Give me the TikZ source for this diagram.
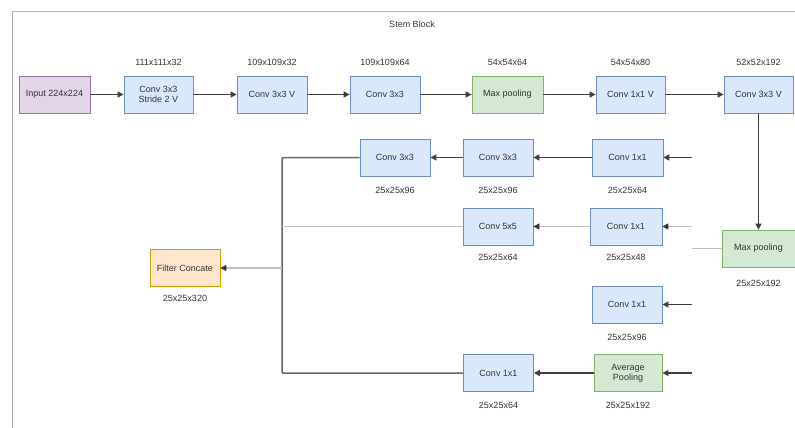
\documentclass[tikz,border=0pt]{standalone}
\usepackage{fontspec}
\setmainfont{Liberation Sans}
\usetikzlibrary{arrows.meta}
\definecolor{bluefill}{HTML}{DAE8FC}
\definecolor{bluedraw}{HTML}{6C8EBF}
\definecolor{greenfill}{HTML}{D5E8D4}
\definecolor{greendraw}{HTML}{82B366}
\definecolor{purplefill}{HTML}{E1D5E7}
\definecolor{purpledraw}{HTML}{9673A6}
\definecolor{orangefill}{HTML}{FFE6CC}
\definecolor{orangedraw}{HTML}{D79B00}
\definecolor{txt}{HTML}{333333}
\tikzset{
  box/.style={minimum width=70pt,minimum height=37pt,inner sep=1pt,align=center,font=\fontsize{9}{10}\selectfont,text=txt,line width=0.8pt},
  bluebox/.style={box,fill=bluefill,draw=bluedraw},
  greenbox/.style={box,fill=greenfill,draw=greendraw},
  purplebox/.style={box,fill=purplefill,draw=purpledraw},
  orangebox/.style={box,fill=orangefill,draw=orangedraw},
  dimlabel/.style={font=\fontsize{9}{10}\selectfont,text=txt,inner sep=0pt},
  arr/.style={draw=black!75,line width=1.4pt,-{Triangle[length=6pt,width=6pt]}},
  lightarr/.style={draw=black!25,line width=1.1pt,-{Triangle[length=6pt,width=6pt,color=black!80]}},
  lightline/.style={draw=black!25,line width=1.1pt},
  darkline/.style={draw=black!60,line width=1.5pt},
  frame/.style={draw=black!30,line width=1pt}
}
\begin{document}
\begin{tikzpicture}[x=1pt,y=-1pt]
\useasboundingbox (0,0) rectangle (795,428);
% frame
\coordinate (fTL) at (12,12);
\coordinate (fTR) at (795,12);
\coordinate (fBL) at (12,428);
\draw[frame] (fTR) -- (fTL) -- (fBL);
\node[dimlabel] (title) at (412,24) {Stem Block};

% top row
\node[purplebox,minimum width=71pt] (in) at (54.5,94.5) {Input 224x224};
\node[bluebox,minimum width=69pt] (c1) at (158.5,94.5) {Conv 3x3\\Stride 2 V};
\node[bluebox] (c2) at (272,94.5) {Conv 3x3 V};
\node[bluebox] (c3) at (385,94.5) {Conv 3x3};
\node[greenbox,minimum width=71pt] (mp1) at (507.5,94.5) {Max pooling};
\node[bluebox,minimum width=69pt] (c4) at (630.5,94.5) {Conv 1x1 V};
\node[bluebox,minimum width=69pt] (c5) at (758.5,94.5) {Conv 3x3 V};

\node[dimlabel] (l1) at (158.5,62) {111x111x32};
\node[dimlabel] (l2) at (272,62) {109x109x32};
\node[dimlabel] (l3) at (385,62) {109x109x64};
\node[dimlabel] (l4) at (507.5,62) {54x54x64};
\node[dimlabel] (l5) at (630.5,62) {54x54x80};
\node[dimlabel] (l6) at (758.5,62) {52x52x192};

\draw[arr] (in) -- (c1);
\draw[arr] (c1) -- (c2);
\draw[arr] (c2) -- (c3);
\draw[arr] (c3) -- (mp1);
\draw[arr] (mp1) -- (c4);
\draw[arr] (c4) -- (c5);

% max pooling 2
\node[greenbox,minimum width=73pt] (mp2) at (758.5,248.5) {Max pooling};
\node[dimlabel] (lmp2) at (758.5,283) {25x25x192};
\draw[arr] (c5) -- (mp2);

% branch 1
\node[bluebox] (b1a) at (395,157.5) {Conv 3x3};
\node[bluebox] (b1b) at (498,157.5) {Conv 3x3};
\node[bluebox,minimum width=71pt] (b1c) at (627.5,157.5) {Conv 1x1};
\node[dimlabel] (lb1a) at (395,190) {25x25x96};
\node[dimlabel] (lb1b) at (498,190) {25x25x96};
\node[dimlabel] (lb1c) at (627.5,190) {25x25x64};
\coordinate (s1) at (692,157.5);
\draw[arr] (s1) -- (b1c);
\draw[arr] (b1c) -- (b1b);
\draw[arr] (b1b) -- (b1a);

% branch 2
\node[bluebox] (b2a) at (498,226.5) {Conv 5x5};
\node[bluebox,minimum width=72pt] (b2b) at (626,226.5) {Conv 1x1};
\node[dimlabel] (lb2a) at (498,257) {25x25x64};
\node[dimlabel] (lb2b) at (626,257) {25x25x48};
\coordinate (s2) at (692,226.5);
\draw[lightarr] (s2) -- (b2b);
\draw[lightarr] (b2b) -- (b2a);

% maxpool stub
\coordinate (s0) at (692,248.5);
\draw[lightline] (mp2) -- (s0);

% branch 3
\node[bluebox] (b3a) at (627,304.5) {Conv 1x1};
\node[dimlabel] (lb3a) at (627,337) {25x25x96};
\coordinate (s3) at (692,304.5);
\draw[arr] (s3) -- (b3a);

% branch 4
\node[greenbox,minimum width=68pt] (b4b) at (628,373) {Average\\Pooling};
\node[bluebox] (b4a) at (498.5,373) {Conv 1x1};
\node[dimlabel] (lb4b) at (628,405) {25x25x192};
\node[dimlabel] (lb4a) at (498.5,405) {25x25x64};
\coordinate (s4) at (692,373);
\draw[arr] (s4) -- (b4b);
\draw[arr] (b4b) -- (b4a);

% collector
\coordinate (jt) at (282,157.5);
\coordinate (jm) at (282,226.5);
\coordinate (jc) at (282,268);
\coordinate (jb) at (282,373);
\draw[darkline,rounded corners=1pt] (b1a.west) -- (jt) -- (jb) -- (b4a.west);
\draw[lightline] (b2a.west) -- (jm);

% filter concat
\node[orangebox] (fc) at (185,268) {Filter Concate};
\node[dimlabel] (lfc) at (185,298) {25x25x320};
\draw[lightarr] (jc) -- (fc);
\end{tikzpicture}
\end{document}
